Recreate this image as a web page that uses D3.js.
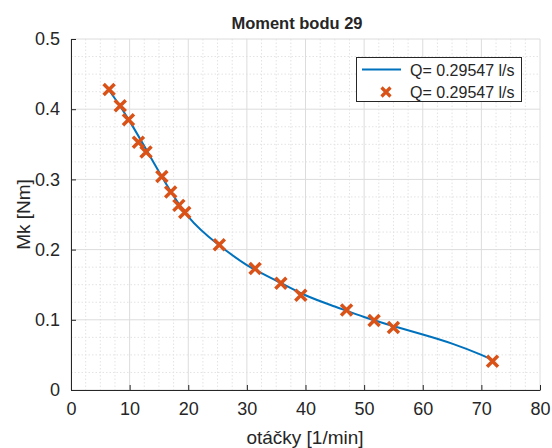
<!DOCTYPE html>
<html>
<head>
<meta charset="utf-8">
<script src="https://cdn.jsdelivr.net/npm/d3@7"></script>
<style>
  html, body { margin: 0; padding: 0; background: #fff; }
  svg { display: block; }
  text { font-family: "Liberation Sans", Arial, Helvetica, sans-serif; fill: #262626; }
</style>
</head>
<body>
<svg id="chart" width="552" height="448"></svg>
<script>
// ---- data ----
const title = "Moment bodu 29";
const xLabel = "otáčky [1/min]";
const yLabel = "Mk [Nm]";
const seriesName = "Q= 0.29547 l/s";

// measured points (otáčky, Mk)
const speed = [6.5, 8.4, 9.8, 11.5, 12.8, 15.5, 17.0, 18.4, 19.4, 25.3, 31.4, 35.8, 39.2, 47.0, 51.7, 55.0, 71.9];
const torque = [0.428, 0.405, 0.385, 0.353, 0.339, 0.304, 0.282, 0.263, 0.253, 0.207, 0.173, 0.152, 0.135, 0.114, 0.099, 0.089, 0.041];

// fitted curve
const fitX = [6.5, 10, 15, 20, 25, 30, 35, 40, 45, 50, 55, 60, 65, 70, 72];
const fitY = [0.427, 0.383, 0.311, 0.247, 0.208, 0.178, 0.156, 0.135, 0.119, 0.104, 0.091, 0.079, 0.066, 0.050, 0.042];

const xTicks = [0, 10, 20, 30, 40, 50, 60, 70, 80];
const yTicks = [0, 0.1, 0.2, 0.3, 0.4, 0.5];

// ---- layout ----
const svg = d3.select("#chart");
const pL = 71, pR = 540, pT = 39, pB = 390;
const x = d3.scaleLinear().domain([0, 80]).range([pL, pR]);
const y = d3.scaleLinear().domain([0, 0.5]).range([pB, pT]);

const blue = "#0072BD", orange = "#D95319";

// minor grid
const xMinor = d3.range(0, 80.01, 2.5).filter(v => v % 10 !== 0);
const yMinor = d3.range(0, 0.5001, 0.025).map(v => +v.toFixed(3)).filter(v => Math.abs(v * 10 - Math.round(v * 10)) > 1e-6);
const g = svg.append("g");
g.selectAll(".xm").data(xMinor).enter().append("line")
  .attr("x1", d => x(d)).attr("x2", d => x(d)).attr("y1", pT).attr("y2", pB)
  .attr("stroke", "#e3e3e3").attr("stroke-width", 1).attr("stroke-dasharray", "1.5,2");
g.selectAll(".ym").data(yMinor).enter().append("line")
  .attr("y1", d => y(d)).attr("y2", d => y(d)).attr("x1", pL).attr("x2", pR)
  .attr("stroke", "#e3e3e3").attr("stroke-width", 1).attr("stroke-dasharray", "1.5,2");
// major grid
g.selectAll(".xg").data(xTicks).enter().append("line")
  .attr("x1", d => x(d)).attr("x2", d => x(d)).attr("y1", pT).attr("y2", pB)
  .attr("stroke", "#dcdcdc").attr("stroke-width", 1);
g.selectAll(".yg").data(yTicks).enter().append("line")
  .attr("y1", d => y(d)).attr("y2", d => y(d)).attr("x1", pL).attr("x2", pR)
  .attr("stroke", "#dcdcdc").attr("stroke-width", 1);

// axes
const xAxis = d3.axisBottom(x).tickValues(xTicks).tickSizeInner(-5).tickSizeOuter(0).tickPadding(12).tickFormat(d3.format("d"));
const yAxis = d3.axisLeft(y).tickValues(yTicks).tickSizeInner(-5).tickSizeOuter(0).tickPadding(11).tickFormat(d => d === 0 ? "0" : d3.format(".1f")(d));
const gx = svg.append("g").attr("transform", `translate(0,${pB})`).call(xAxis);
const gy = svg.append("g").attr("transform", `translate(${pL},0)`).call(yAxis);
[gx, gy].forEach(a => {
  a.select(".domain").attr("stroke", "#262626").attr("stroke-width", 1);
  a.selectAll(".tick line").attr("stroke", "#262626");
  a.selectAll(".tick text").attr("font-size", 18).attr("fill", "#262626")
    .attr("font-family", "Liberation Sans, Arial, sans-serif");
});
gx.selectAll(".tick text").attr("dy", "0.71em");

// curve
const fit = fitX.map((v, i) => [v, fitY[i]]);
svg.append("path").datum(fit)
  .attr("fill", "none").attr("stroke", blue).attr("stroke-width", 2)
  .attr("d", d3.line().x(d => x(d[0])).y(d => y(d[1])).curve(d3.curveNatural));

// markers
const pts = speed.map((v, i) => [v, torque[i]]);
const cross = (sel, s, w) => sel.append("path")
  .attr("d", `M${-s},${-s}L${s},${s}M${-s},${s}L${s},${-s}`)
  .attr("stroke", orange).attr("stroke-width", w).attr("fill", "none");
svg.selectAll(".mk").data(pts).enter().append("g")
  .attr("transform", d => `translate(${x(d[0])},${y(d[1])})`)
  .each(function () { cross(d3.select(this), 5.5, 3.5); });

// title & labels
svg.append("text").attr("x", 297).attr("y", 29).attr("text-anchor", "middle")
  .attr("font-size", 16.5).attr("font-weight", "bold").attr("fill", "#000").text(title);
svg.append("text").attr("x", 305).attr("y", 444).attr("text-anchor", "middle")
  .attr("font-size", 19).text(xLabel);
svg.append("text").attr("transform", `translate(30,${(pT + pB) / 2}) rotate(-90)`)
  .attr("text-anchor", "middle").attr("font-size", 19).text(yLabel);

// legend
const lg = svg.append("g");
lg.append("rect").attr("x", 356.5).attr("y", 57.5).attr("width", 165).attr("height", 44)
  .attr("fill", "#fff").attr("stroke", "#262626").attr("stroke-width", 1);
lg.append("line").attr("x1", 362).attr("x2", 401).attr("y1", 69.5).attr("y2", 69.5)
  .attr("stroke", blue).attr("stroke-width", 2);
lg.append("text").attr("x", 410).attr("y", 75.5).attr("font-size", 16).text(seriesName);
const lm = lg.append("g").attr("transform", "translate(386,92)");
cross(lm, 4.5, 3.2);
lg.append("text").attr("x", 410).attr("y", 98).attr("font-size", 16).text(seriesName);
</script>
</body>
</html>
